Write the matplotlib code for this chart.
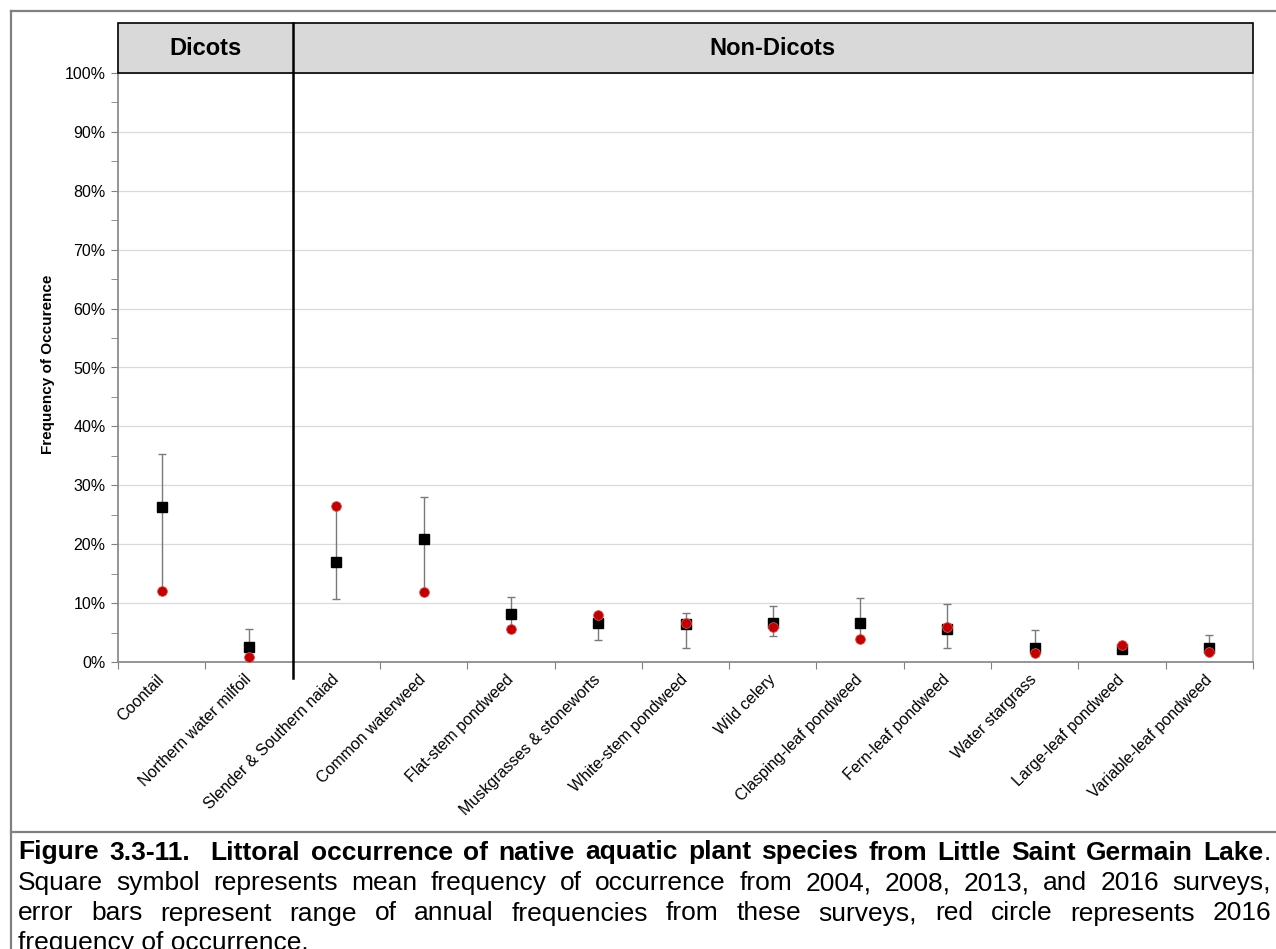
import numpy as np
import matplotlib
matplotlib.use("Agg")
import matplotlib.pyplot as plt
from matplotlib.patches import Rectangle
from matplotlib.lines import Line2D
from matplotlib.ticker import PercentFormatter, MultipleLocator, FixedLocator

plt.rcParams['font.family'] = ['Liberation Sans', 'DejaVu Sans']

species = ['Coontail', 'Northern water milfoil', 'Slender & Southern naiad',
           'Common waterweed', 'Flat-stem pondweed', 'Muskgrasses & stoneworts',
           'White-stem pondweed', 'Wild celery', 'Clasping-leaf pondweed',
           'Fern-leaf pondweed', 'Water stargrass', 'Large-leaf pondweed',
           'Variable-leaf pondweed']
mean_freq = [26.4, 2.55, 16.9, 20.8, 8.15, 6.7, 6.45, 6.6, 6.7, 5.55, 2.3, 2.15, 2.3]
low_freq = [12.0, 0.8, 10.7, 11.8, 5.55, 3.7, 2.4, 4.35, 3.95, 2.4, 1.5, 1.6, 1.7]
high_freq = [35.3, 5.55, 26.5, 28.0, 11.0, 7.9, 8.4, 9.45, 10.8, 9.8, 5.4, 2.95, 4.5]
freq_2016 = [12.0, 0.8, 26.5, 11.8, 5.55, 7.9, 6.6, 5.9, 3.95, 5.9, 1.5, 2.95, 1.7]
groups = ['Dicots', 'Non-Dicots']
n_dicots = 2

W, H = 1276, 949
fig = plt.figure(figsize=(W / 100, H / 100), dpi=100)

def fx(px):
    return px / W

def fy(py):
    return 1 - py / H

ax_l, ax_r, ax_t, ax_b = 118, 1253, 73, 662
ax = fig.add_axes([fx(ax_l), fy(ax_b), fx(ax_r - ax_l), fy(ax_t) - fy(ax_b)])

x = np.arange(len(species))
m = np.array(mean_freq) / 100
lo = np.array(low_freq) / 100
hi = np.array(high_freq) / 100
r = np.array(freq_2016) / 100

ax.errorbar(x, m, yerr=[m - lo, hi - m], fmt='none', ecolor='#7a7a7a',
            elinewidth=1.0, capsize=3.2, capthick=1.0, zorder=3)
ax.plot(x, m, 's', color='black', markersize=7.2, zorder=4)
ax.plot(x, r, 'o', color='#c00000', markeredgecolor='#d85050',
        markeredgewidth=0.6, markersize=7, zorder=5)

ax.set_xlim(-0.5, len(species) - 0.5)
ax.set_ylim(0, 1)
ax.yaxis.set_major_locator(MultipleLocator(0.1))
ax.yaxis.set_minor_locator(MultipleLocator(0.05))
ax.yaxis.set_major_formatter(PercentFormatter(1.0, decimals=0))
ax.grid(axis='y', which='major', color='#d9d9d9', lw=0.9, zorder=0)
ax.set_axisbelow(True)

ax.xaxis.set_major_locator(FixedLocator(np.arange(len(species) + 1) - 0.5))
ax.xaxis.set_major_formatter(plt.NullFormatter())
ax.xaxis.set_minor_locator(FixedLocator(x))
ax.set_xticklabels(species, minor=True, rotation=45, ha='right', va='center',
                   rotation_mode='anchor', fontsize=11.5)
ax.tick_params(axis='x', which='minor', length=0, pad=11)
ax.tick_params(axis='x', which='major', length=5, color='#808080', direction='out')
ax.tick_params(axis='y', which='both', length=5, color='#808080', direction='out',
               labelsize=11.5, pad=4)

for s in ['left', 'bottom', 'right']:
    ax.spines[s].set_color('#8c8c8c')
    ax.spines[s].set_linewidth(1.3)
ax.spines['right'].set_color('#c0c0c0')
ax.spines['top'].set_visible(False)

# header boxes
hdr_top = 23
ax_h = ax_b - ax_t
hy = (ax_b - hdr_top) / ax_h
div = n_dicots - 0.5
ax.add_patch(Rectangle((-0.5, 1.0), len(species), hy - 1.0, transform=ax.get_xaxis_transform(),
                       facecolor='#d9d9d9', edgecolor='black', lw=1.2, clip_on=False, zorder=6))
ax.add_line(Line2D([div, div], [-(678 - ax_b) / ax_h, hy], transform=ax.get_xaxis_transform(),
                   color='black', lw=1.8, clip_on=False, zorder=7))
ax.text((-0.5 + div) / 2, (1 + hy) / 2, groups[0], transform=ax.get_xaxis_transform(),
        ha='center', va='center', fontsize=17, fontweight='bold', zorder=8)
ax.text((div + len(species) - 0.5) / 2, (1 + hy) / 2, groups[1], transform=ax.get_xaxis_transform(),
        ha='center', va='center', fontsize=17, fontweight='bold', zorder=8)

fig.text(fx(48), fy(364), 'Frequency of Occurence', rotation=90, ha='center', va='center',
         fontsize=11, fontweight='bold')

# outer frame
frame_c = '#808080'
fig.add_artist(Line2D([fx(11), fx(11)], [fy(11), 0], color=frame_c, lw=1.6))
fig.add_artist(Line2D([fx(11), 1], [fy(11), fy(11)], color=frame_c, lw=1.6))
fig.add_artist(Line2D([fx(11), 1], [fy(831.5), fy(831.5)], color=frame_c, lw=1.6))

# caption, justified
cap_lines = [
    [('Figure', 'bold'), ('3.3-11.', 'bold'), ('', None), ('Littoral', 'bold'), ('occurrence', 'bold'),
     ('of', 'bold'), ('native', 'bold'), ('aquatic', 'bold'), ('plant', 'bold'), ('species', 'bold'),
     ('from', 'bold'), ('Little', 'bold'), ('Saint', 'bold'), ('Germain', 'bold'), ('Lake', 'bold+.')],
    [(w, 'normal') for w in 'Square symbol represents mean frequency of occurrence from 2004, 2008, 2013, and 2016 surveys,'.split()],
    [(w, 'normal') for w in 'error bars represent range of annual frequencies from these surveys, red circle represents 2016'.split()],
]
last_line = 'frequency of occurrence.'
baselines = [859.5, 890, 920.5, 950]
cap_fs = 19
left_px, right_px = 18, 1271

renderer = fig.canvas.get_renderer()

def width_of(t):
    return t.get_window_extent(renderer).width

for line, by in zip(cap_lines, baselines):
    pieces = []
    total = 0
    n_gaps = 0
    for word, wt in line:
        if wt is None:
            n_gaps += 1
            continue
        if wt == 'bold+.':
            t1 = fig.text(0, fy(by), word, fontsize=cap_fs, fontweight='bold', va='baseline')
            t2 = fig.text(0, fy(by), '.', fontsize=cap_fs, va='baseline')
            w1, w2 = width_of(t1), width_of(t2)
            pieces.append(([t1, t2], [0, w1]))
            total += w1 + w2
        else:
            t = fig.text(0, fy(by), word, fontsize=cap_fs, fontweight=wt, va='baseline')
            w = width_of(t)
            pieces.append(([t], [0]))
            total += w
    n_gaps += len(pieces) - 1
    gap = (right_px - left_px - total) / n_gaps
    cur = left_px
    gi = 0
    for word, wt in line:
        if wt is None:
            cur += gap
            continue
        ts, offs = pieces[gi]
        for t, o in zip(ts, offs):
            t.set_x(fx(cur + o))
        cur += sum(width_of(t) for t in ts) + gap
        gi += 1

fig.text(fx(left_px), fy(baselines[3]), last_line, fontsize=cap_fs, va='baseline')

fig.savefig('out.png', dpi=100)
